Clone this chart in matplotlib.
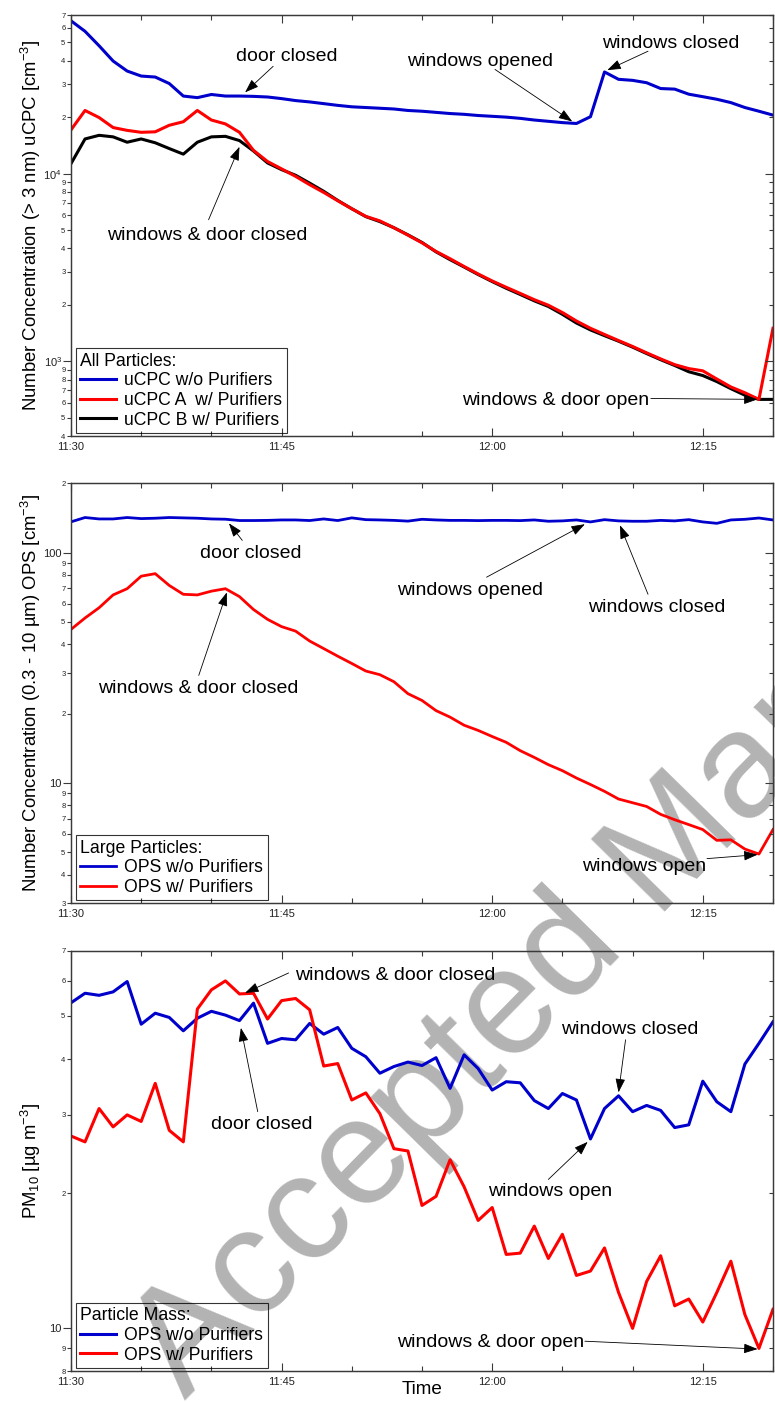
import matplotlib
matplotlib.use("Agg")
import matplotlib.pyplot as plt
from matplotlib.ticker import LogLocator, FuncFormatter
import math

plt.rcParams["font.family"] = ["Liberation Sans", "DejaVu Sans"]
plt.rcParams["mathtext.fontset"] = "custom"
plt.rcParams["mathtext.rm"] = "Liberation Sans"
plt.rcParams["mathtext.it"] = "Liberation Sans:italic"

# ---- DATA ----
# one reading per minute, minutes after 11:30
minutes = list(range(51))
time_ticks = [0, 15, 30, 45]
time_labels = ["11:30", "11:45", "12:00", "12:15"]

# all particles, uCPC (> 3 nm), cm^-3
ucpc_no_purifier = [65200, 57300, 48000, 39800, 35200, 33100, 32700, 30200, 25900, 25400,
                    26400, 25900, 25900, 25800, 25600, 25100, 24500, 24100, 23600, 23100,
                    22700, 22500, 22300, 22100, 21700, 21500, 21200, 20900, 20700, 20400,
                    20200, 20000, 19700, 19300, 19000, 18700, 18500, 20100, 34800, 31800,
                    31400, 30500, 28400, 28200, 26500, 25700, 24900, 23900, 22500, 21500, 20500]
ucpc_a_purifier = [17100, 21700, 19900, 17600, 17000, 16600, 16700, 18100, 18900, 21700,
                   19300, 18400, 16600, 13300, 11600, 10600, 9670, 8730, 7940, 7170,
                   6500, 5920, 5600, 5150, 4700, 4280, 3850, 3520, 3200, 2920,
                   2680, 2480, 2300, 2130, 1990, 1820, 1640, 1500, 1390, 1290,
                   1200, 1110, 1030, 960, 915, 890, 805, 730, 680, 627, 1500]
ucpc_b_purifier = [11300, 15300, 16000, 15700, 14700, 15300, 14600, 13600, 12700, 14700,
                   15700, 15800, 15000, 13200, 11400, 10500, 9800, 8900, 8050, 7200,
                   6500, 5900, 5550, 5150, 4720, 4300, 3830, 3480, 3180, 2900,
                   2660, 2450, 2270, 2100, 1960, 1780, 1600, 1470, 1370, 1280,
                   1190, 1100, 1020, 950, 880, 840, 780, 715, 660, 627, 627]

# large particles, OPS (0.3 - 10 um), cm^-3
ops_no_purifier = [136, 142, 140, 140, 142, 140.5, 141, 142, 141.5, 141,
                   140, 139.6, 137.8, 137.8, 138, 138.6, 138.6, 137.8, 140, 137.8,
                   141.5, 139, 138.6, 138, 137, 139.5, 138.6, 138, 138, 137.7,
                   138, 138, 137.7, 138.6, 136.8, 137.3, 138.6, 135.9, 139, 137.3,
                   136.8, 136.8, 138, 137.3, 139, 135.9, 134, 138.6, 139.5, 141.3, 138.6]
ops_purifier = [46.4, 52, 57.6, 65.5, 69.7, 79, 81, 72, 65.9, 65.5,
                68, 69.7, 64.4, 56.6, 51.3, 47.7, 45.6, 41.3, 38.3, 35.5,
                33, 30.6, 29.5, 27.5, 24.4, 22.8, 20.6, 19.3, 17.8, 16.9,
                15.9, 15.0, 13.8, 12.9, 12.0, 11.3, 10.5, 9.84, 9.19, 8.51,
                8.2, 7.9, 7.3, 6.92, 6.59, 6.27, 5.63, 5.66, 5.16, 4.91, 6.27]

# particle mass, PM10, ug m^-3
pm10_no_purifier = [53.5, 56.2, 55.6, 56.6, 59.7, 47.9, 50.7, 49.6, 46.3, 49.4,
                    51.2, 50.2, 48.8, 53.4, 43.4, 44.5, 44.2, 48.1, 45.5, 47.1,
                    42.3, 40.5, 37.2, 38.5, 39.4, 38.7, 40.3, 34.4, 40.9, 38.1,
                    34.1, 35.6, 35.4, 32.3, 31.0, 33.5, 32.4, 26.5, 31.0, 33.1,
                    30.5, 31.5, 30.7, 28.1, 28.5, 35.7, 32.1, 30.5, 39.0, 43.4, 48.5]
pm10_purifier = [26.9, 26.1, 31.0, 28.2, 30.0, 29.0, 35.3, 27.7, 26.1, 51.8,
                 57.2, 59.9, 56.0, 56.2, 49.2, 54.1, 54.7, 51.6, 38.6, 39.1,
                 32.4, 33.6, 30.2, 25.2, 24.9, 18.8, 19.7, 23.8, 20.7, 17.4,
                 18.6, 14.6, 14.7, 16.9, 14.3, 16.2, 13.1, 13.4, 15.1, 12.0,
                 9.97, 12.7, 14.5, 11.2, 11.6, 10.3, 12.0, 14.1, 10.7, 8.99, 11.0]

BLUE = "#0000cc"
RED = "#ff0000"
SPINE = "#3a3a3a"


# ---- HELPERS ----
def minor_digit(v, pos):
    lead = v / 10 ** math.floor(math.log10(v) + 1e-9)
    return str(int(round(lead)))


def power_label(v, pos):
    return r"$10^{%d}$" % int(round(math.log10(v)))


def plain_label(v, pos):
    return "%d" % int(round(v))


def style_axis(ax, ylim, major_fmt):
    ax.set_facecolor("none")
    ax.set_xlim(0, 50)
    ax.set_yscale("log")
    ax.set_ylim(*ylim)
    ax.yaxis.set_major_locator(LogLocator(base=10))
    ax.yaxis.set_minor_locator(LogLocator(base=10, subs=range(2, 10)))
    ax.yaxis.set_major_formatter(FuncFormatter(major_fmt))
    ax.yaxis.set_minor_formatter(FuncFormatter(minor_digit))
    ax.tick_params(axis="y", which="major", direction="out", length=5.5, width=0.8,
                   color=SPINE, labelsize=8, pad=1, labelcolor="#222222")
    ax.tick_params(axis="y", which="minor", direction="out", length=3, width=0.8,
                   color=SPINE, labelsize=5.5, pad=1, labelcolor="#222222")

    ax.set_xticks(time_ticks)
    ax.set_xticklabels(time_labels)
    ax.set_xticks(range(0, 51, 5), minor=True)
    ax.tick_params(axis="x", which="both", direction="in", top=True, width=0.8,
                   color=SPINE, labelsize=8, pad=4, labelcolor="#222222")
    ax.tick_params(axis="x", which="major", length=5.8)
    ax.tick_params(axis="x", which="minor", length=3.6)

    # right side ticks point inward
    tw = ax.twinx()
    tw.set_yscale("log")
    tw.set_ylim(*ylim)
    tw.yaxis.set_major_locator(LogLocator(base=10))
    tw.yaxis.set_minor_locator(LogLocator(base=10, subs=range(2, 10)))
    tw.tick_params(axis="y", which="both", direction="in", labelright=False,
                   width=0.8, color=SPINE)
    tw.tick_params(axis="y", which="major", length=5.5)
    tw.tick_params(axis="y", which="minor", length=3)
    for a in (ax, tw):
        for sp in a.spines.values():
            sp.set_color(SPINE)
            sp.set_linewidth(0.9)


def note(ax, text, text_xy, tail_xy, head_xy):
    ax.text(text_xy[0], text_xy[1], text, ha="center", va="baseline", fontsize=14)
    ax.annotate("", xy=head_xy, xytext=tail_xy,
                arrowprops=dict(arrowstyle="-|>,head_length=0.7,head_width=0.25",
                                color="black", lw=0.6, shrinkA=0, shrinkB=0,
                                mutation_scale=12))


def add_legend(ax, title, anchor):
    leg = ax.legend(title=title, loc="lower left", bbox_to_anchor=anchor,
                    borderaxespad=0, fancybox=False, edgecolor="black",
                    facecolor="none", framealpha=None, alignment="left",
                    fontsize=12.7, title_fontsize=12.7, handlelength=2.0,
                    handletextpad=0.5, labelspacing=0.15, borderpad=0.25)
    leg.get_frame().set_linewidth(0.8)
    return leg


# ---- PLOTTING ----
fig = plt.figure(figsize=(7.75, 14.02), dpi=100)

fig.text(0.2387, 0.0014, "Accepted Manuscript", rotation=45.5, rotation_mode="anchor",
         ha="left", va="baseline", fontsize=109, color="#b3b3b3", zorder=-1)

ax1 = fig.add_axes([0.0916, 0.6890, 0.9058, 0.3003])
ax2 = fig.add_axes([0.0916, 0.3557, 0.9058, 0.2996])
ax3 = fig.add_axes([0.0916, 0.0221, 0.9058, 0.2998])

# top: uCPC
ax1.plot(minutes, ucpc_no_purifier, color=BLUE, lw=2.2, label="uCPC w/o Purifiers")
ax1.plot(minutes, ucpc_a_purifier, color=RED, lw=2.2, label="uCPC A  w/ Purifiers")
ax1.plot(minutes, ucpc_b_purifier, color="black", lw=2.2, label="uCPC B w/ Purifiers",
         zorder=1.9)
style_axis(ax1, (400, 70000), power_label)
ax1.set_ylabel(r"Number Concentration (> 3 nm) uCPC [cm$^{-3}$]", fontsize=13.3)
ax1.yaxis.set_label_coords(-0.040, 0.5)
add_legend(ax1, "All Particles:", (0.007, 0.007))
note(ax1, "door closed", (15.4, 39700), (14.4, 37300), (12.4, 27100))
note(ax1, "windows & door closed", (9.7, 4440), (9.8, 5680), (12.0, 13900))
note(ax1, "windows opened", (29.1, 37300), (30.2, 35900), (35.7, 18970))
note(ax1, "windows closed", (42.7, 46900), (41.1, 44900), (38.2, 35600))
note(ax1, "windows & door open", (34.5, 582), (41.3, 634), (48.9, 627))

# middle: OPS number
ax2.plot(minutes, ops_no_purifier, color=BLUE, lw=2.0, label="OPS w/o Purifiers")
ax2.plot(minutes, ops_purifier, color=RED, lw=2.0, label="OPS w/ Purifiers")
style_axis(ax2, (3, 200), plain_label)
ax2.set_ylabel(r"Number Concentration (0.3 - 10 µm) OPS [cm$^{-3}$]", fontsize=13.3)
ax2.yaxis.set_label_coords(-0.040, 0.5)
add_legend(ax2, "Large Particles:", (0.007, 0.007))
note(ax2, "door closed", (12.8, 95.1), (12.2, 113), (11.25, 134))
note(ax2, "windows & door closed", (9.05, 24.6), (9.1, 29.3), (11.1, 67.2))
note(ax2, "windows opened", (28.4, 65.5), (29.6, 78.2), (36.6, 132.8))
note(ax2, "windows closed", (41.7, 55.4), (41.1, 65.9), (39.1, 131.5))
note(ax2, "windows open", (40.8, 4.13), (45.3, 4.69), (48.9, 4.88))

# bottom: PM10
ax3.plot(minutes, pm10_no_purifier, color=BLUE, lw=2.2, label="OPS w/o Purifiers")
ax3.plot(minutes, pm10_purifier, color=RED, lw=2.2, label="OPS w/ Purifiers")
style_axis(ax3, (8, 70), plain_label)
ax3.set_ylabel(r"PM$_{10}$ [µg m$^{-3}$]", fontsize=13.3)
ax3.yaxis.set_label_coords(-0.040, 0.5)
ax3.set_xlabel("Time", fontsize=13.6, va="top")
ax3.xaxis.set_label_coords(0.5, -0.024)
add_legend(ax3, "Particle Mass:", (0.007, 0.007))
note(ax3, "windows & door closed", (23.1, 60.2), (15.5, 62.4), (12.4, 56.3))
note(ax3, "door closed", (13.6, 27.9), (13.3, 30.5), (12.1, 47.0))
note(ax3, "windows closed", (39.8, 45.6), (39.5, 44.2), (39.0, 33.7))
note(ax3, "windows open", (34.1, 19.7), (34.0, 21.5), (36.8, 26.1))
note(ax3, "windows & door open", (29.9, 9.04), (36.6, 9.33), (48.9, 8.96))

fig.savefig("out.png", dpi=100)
print("Saved: out.png")
